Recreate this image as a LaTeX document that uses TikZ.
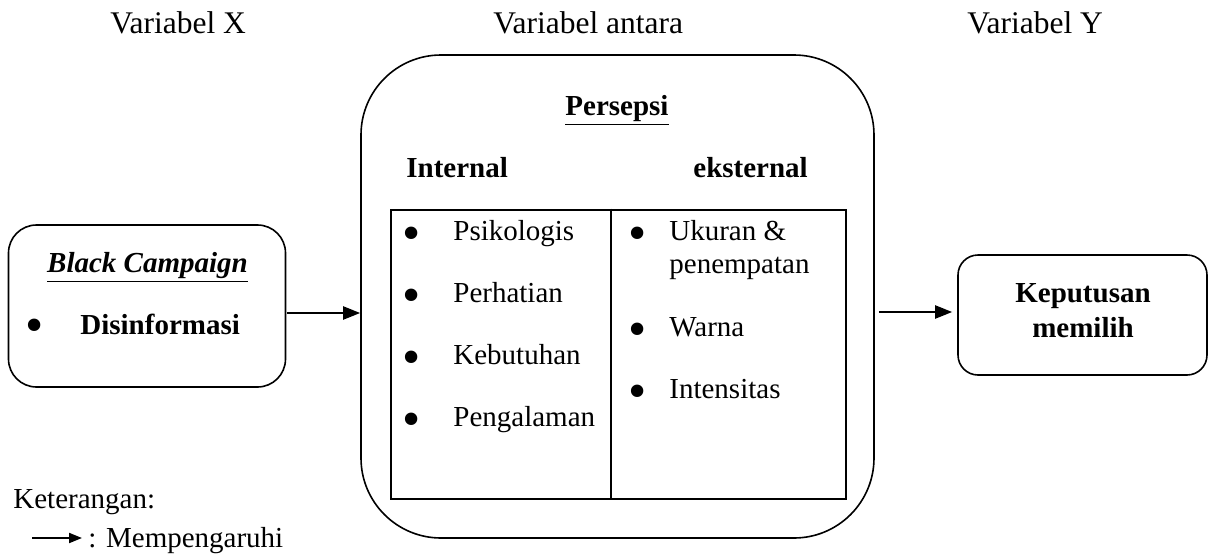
\documentclass[tikz,border=0pt]{standalone}
\usepackage{fontspec}
\setmainfont{Liberation Serif}
\usetikzlibrary{arrows.meta}
\begin{document}
\begin{tikzpicture}[x=0.5pt,y=-0.5pt,
  txt/.style={inner sep=0pt, font=\fontsize{14.5}{16.5}\selectfont},
  head/.style={inner sep=0pt, font=\fontsize{15.75}{18}\selectfont},
  bul/.style={inner sep=0pt, anchor=center, font=\fontsize{26}{26}\selectfont},
  rbox/.style={draw, line width=0.8pt, rounded corners=#1, inner sep=0pt},
  arr/.style={line width=1.1pt, -{Triangle[length=8.5pt,width=6.5pt]}},
  larr/.style={line width=1pt, -{Triangle[length=6.5pt,width=5pt]}}]
\useasboundingbox (0,0) rectangle (1212,558);
% headings
\node[head, anchor=base west] (vx) at (110,33) {Variabel X};
\node[head, anchor=base west] (va) at (493,33) {Variabel antara};
\node[head, anchor=base west] (vy) at (967,33) {Variabel Y};
% left box
\node[rbox=14pt, minimum width=138.5pt, minimum height=81pt] (lbox) at (147,306) {};
\node[txt, anchor=base, font=\fontsize{14.5}{16.5}\selectfont\bfseries\itshape] (bc) at (147.5,272) {\underline{Black Campaign}};
\node[bul] (b0) at (35,331) {•};
\node[txt, anchor=base west, font=\fontsize{14.5}{16.5}\selectfont\bfseries] (dis) at (80,334) {Disinformasi};
% big box
\node[rbox=40pt, minimum width=256.5pt, minimum height=241.5pt] (big) at (617.5,296.5) {};
\node[txt, anchor=base, font=\fontsize{14.5}{16.5}\selectfont\bfseries] (per) at (617,115) {\underline{Persepsi}};
\node[txt, anchor=base west, font=\fontsize{14.5}{16.5}\selectfont\bfseries] (int) at (406,177) {Internal};
\node[txt, anchor=base west, font=\fontsize{14.5}{16.5}\selectfont\bfseries] (eks) at (693,177) {eksternal};
% table
\node[draw, line width=1.3pt, inner sep=0pt, minimum width=227.5pt, minimum height=144.5pt] (tbl) at (618.5,354.5) {};
\coordinate (dv) at (611,0);
\draw[line width=1.3pt] (tbl.north -| dv) -- (tbl.south -| dv);
% left column
\node[bul] (i1) at (412,239) {•};
\node[txt, anchor=base west] (t1) at (453,240) {Psikologis};
\node[bul] (i2) at (412,301) {•};
\node[txt, anchor=base west] (t2) at (453,302) {Perhatian};
\node[bul] (i3) at (412,363) {•};
\node[txt, anchor=base west] (t3) at (453,364) {Kebutuhan};
\node[bul] (i4) at (412,425) {•};
\node[txt, anchor=base west] (t4) at (453,426) {Pengalaman};
% right column
\node[bul] (e1) at (638,239) {•};
\node[txt, anchor=base west] (u1) at (669,240) {Ukuran \&};
\node[txt, anchor=base west] (u1b) at (669,273) {penempatan};
\node[bul] (e2) at (638,335) {•};
\node[txt, anchor=base west] (u2) at (669,336) {Warna};
\node[bul] (e3) at (638,397) {•};
\node[txt, anchor=base west] (u3) at (669,398) {Intensitas};
% right box
\node[rbox=10pt, minimum width=124.5pt, minimum height=60pt] (rb) at (1082.5,315) {};
\node[txt, anchor=base, font=\fontsize{14.5}{16.5}\selectfont\bfseries] (kp) at (1083,302) {Keputusan};
\node[txt, anchor=base, font=\fontsize{14.5}{16.5}\selectfont\bfseries] (mm) at (1083,337) {memilih};
% arrows
\coordinate (a1) at (0,313);
\coordinate (a2) at (0,312);
\draw[arr, shorten <=0.5pt] (lbox.east |- a1) -- (big.west |- a1);
\draw[arr, shorten <=2pt, shorten >=2.5pt] (big.east |- a2) -- (rb.west |- a2);
% legend
\node[txt, anchor=base west] (ket) at (13,508) {Keterangan:};
\node[txt, anchor=base west] (mp) at (88,547) {: Mempengaruhi};
\coordinate (k0) at (32,538);
\draw[larr, shorten >=3pt] (k0) -- (k0 -| mp.west);
\end{tikzpicture}
\end{document}
